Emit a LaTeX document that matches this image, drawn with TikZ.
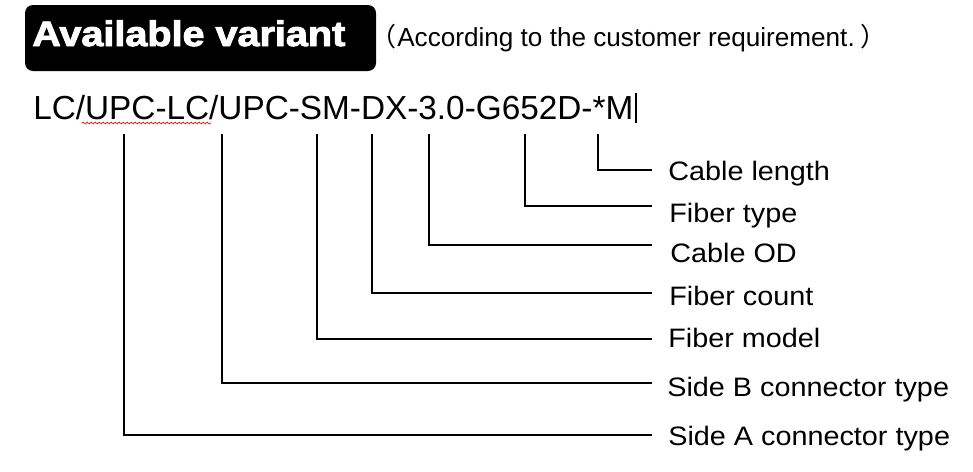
\documentclass[tikz,border=0pt]{standalone}
\usepackage{fontspec}
\setmainfont{Liberation Sans}
\newfontfamily\cjkfont{Noto Sans CJK SC}
\newfontfamily\heavyfont{Liberation Sans Bold}[FakeBold=2.5]
\usetikzlibrary{decorations.pathmorphing}
\tikzset{
  txt/.style={anchor=base west,inner sep=0pt},
  lbl/.style={txt,xscale=1.08,font=\fontsize{20}{24}\selectfont},
  lead/.style={line width=0.8pt},
}
\begin{document}
\begin{tikzpicture}[x=0.75pt,y=-0.75pt]
            \useasboundingbox (0,0) rectangle (973,471);
            \fill[rounded corners=6pt] (25,5) rectangle (376,71);
            \node[txt,xscale=1.12,text=white,font=\heavyfont\fontsize{26.5}{30}\selectfont] (title) at (32,46) {Available variant};
            \node[txt,font=\fontsize{19.6}{24}\selectfont] (note) at (397,46) {According to the customer requirement.};
            \node[anchor=base east,inner sep=0pt,font=\cjkfont\fontsize{19.5}{24}\selectfont] (lpar) at (note.base west) {（};
            \node[txt,xshift=4pt,font=\cjkfont\fontsize{19.5}{24}\selectfont] (rpar) at (note.base east) {）};
            \node[txt,font=\fontsize{25}{30}\selectfont] (code) at (33,119) {LC/UPC-LC/UPC-SM-DX-3.0-G652D-*M};
            \draw[red,line width=0.5pt,decorate,decoration={snake,amplitude=0.7pt,segment length=3pt}] (82,123) -- (211,123);
            \coordinate (curtop) at (636,93);
            \coordinate (curbot) at (636,123);
            \draw[line width=1.1pt] (curtop) -- (curbot);
            \coordinate (tlen) at (598,134);
            \coordinate (ttyp) at (525,134);
            \coordinate (tod) at (429,134);
            \coordinate (tcnt) at (372,134);
            \coordinate (tmdl) at (317,134);
            \coordinate (tsb) at (222,134);
            \coordinate (tsa) at (124,134);
            \coordinate (elen) at (652,170);
            \coordinate (etyp) at (652,206);
            \coordinate (eod) at (652,245);
            \coordinate (ecnt) at (652,293);
            \coordinate (emdl) at (652,339);
            \coordinate (esb) at (652,383);
            \coordinate (esa) at (652,435);
            \node[lbl] (llen) at (668,180) {Cable length};
            \node[lbl] (ltyp) at (669,222) {Fiber type};
            \node[lbl] (lod) at (670,262) {Cable OD};
            \node[lbl] (lcnt) at (669,305) {Fiber count};
            \node[lbl] (lmdl) at (668,347) {Fiber model};
            \node[lbl] (lsb) at (667,396) {Side B connector type};
            \node[lbl] (lsa) at (668,445) {Side A connector type};
            \draw[lead] (tlen) |- (elen);
            \draw[lead] (ttyp) |- (etyp);
            \draw[lead] (tod) |- (eod);
            \draw[lead] (tcnt) |- (ecnt);
            \draw[lead] (tmdl) |- (emdl);
            \draw[lead] (tsb) |- (esb);
            \draw[lead] (tsa) |- (esa);
        \end{tikzpicture}
\end{document}
